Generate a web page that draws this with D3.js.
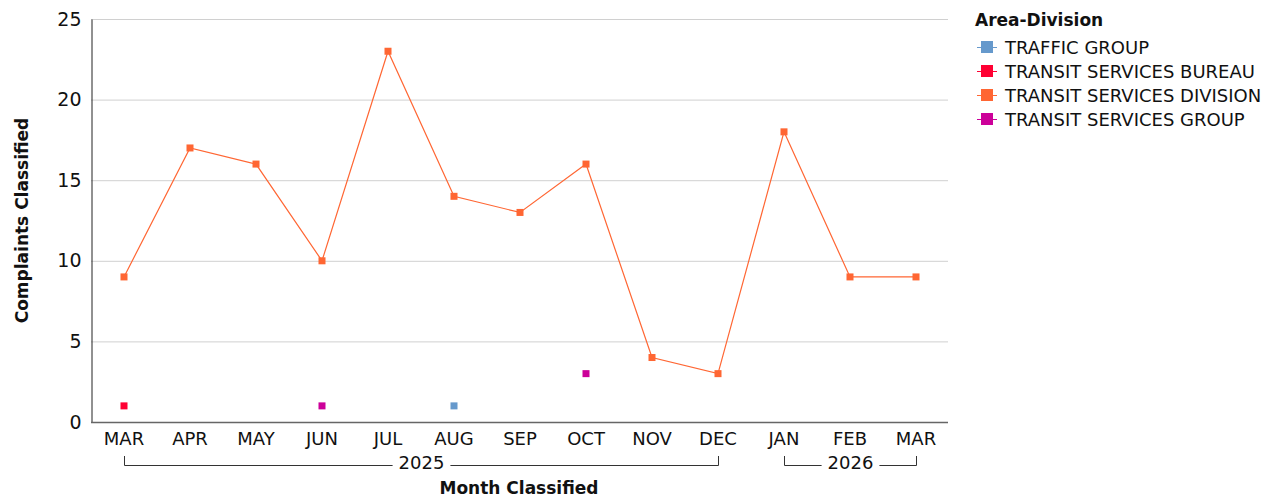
<!DOCTYPE html>
<html><head><meta charset="utf-8">
<script src="https://cdn.jsdelivr.net/npm/d3@7"></script>
<style>body{margin:0;background:#fff;}svg{display:block;font-family:"DejaVu Sans",sans-serif;}</style>
</head><body>
<svg id="c" width="1268" height="498"></svg>
<script>
const months = ["MAR","APR","MAY","JUN","JUL","AUG","SEP","OCT","NOV","DEC","JAN","FEB","MAR"];
const monthKeys = ["2025-03","2025-04","2025-05","2025-06","2025-07","2025-08","2025-09","2025-10","2025-11","2025-12","2026-01","2026-02","2026-03"];
const years = [{label:"2025", from:0, to:9},{label:"2026", from:10, to:12}];
const seriesNames = ["TRAFFIC GROUP","TRANSIT SERVICES BUREAU","TRANSIT SERVICES DIVISION","TRANSIT SERVICES GROUP"];
const seriesColors = ["#6699cc","#ff0033","#ff6633","#cc0099"];
const trafficGroup = [null,null,null,null,null,1,null,null,null,null,null,null,null];
const transitBureau = [1,null,null,null,null,null,null,null,null,null,null,null,null];
const transitDivision = [9,17,16,10,23,14,13,16,4,3,18,9,9];
const transitGroup = [null,null,null,1,null,null,null,3,null,null,null,null,null];
const yTicks = [0,5,10,15,20,25];

const seriesData = [trafficGroup, transitBureau, transitDivision, transitGroup];
const svg = d3.select("#c");
const L=91, R=949, T=19, B=422;
const x = d3.scaleBand().domain(monthKeys).range([L,R]).padding(0);
const cx = k => x(k)+x.bandwidth()/2;
const y = d3.scaleLinear().domain([0,25]).range([B,T]);

// gridlines
svg.append("g").selectAll("line").data(yTicks.filter(t=>t>0)).join("line")
  .attr("x1",L).attr("x2",R-1).attr("y1",d=>y(d)+0.5).attr("y2",d=>y(d)+0.5)
  .attr("stroke","#d0d0d0").attr("stroke-width",1);

// y axis
const yAxis = svg.append("g").attr("transform",`translate(${L+0.5},0)`)
  .call(d3.axisLeft(y).tickValues(yTicks).tickSize(0).tickPadding(10));
yAxis.select(".domain").attr("stroke","#222").attr("stroke-width",1);
yAxis.selectAll("text").attr("font-size",19).attr("fill","#111").attr("font-family","DejaVu Sans");

// x axis
const xAxis = svg.append("g").attr("transform",`translate(0,${B+0.5})`)
  .call(d3.axisBottom(x).tickFormat((d,i)=>months[i]).tickSize(0).tickPadding(10));
xAxis.select(".domain").attr("stroke","#666").attr("stroke-width",1.5).attr("d",`M${L},0H${R-1}`);
xAxis.selectAll("text").attr("font-size",18).attr("fill","#111").attr("font-family","DejaVu Sans");

// year brackets
const by = 465.5, btop = 456;
years.forEach(yr=>{
  const x1 = Math.round(cx(monthKeys[yr.from]))+0.5, x2 = Math.round(cx(monthKeys[yr.to]))+0.5;
  const mid = (x1+x2)/2;
  const g = svg.append("g");
  const txt = g.append("text").attr("x",mid).attr("y",by+3).attr("text-anchor","middle")
    .attr("font-size",18).attr("fill","#111").text(yr.label);
  const w = txt.node().getComputedTextLength()/2 + 6;
  g.append("path").attr("d",`M${x1},${btop}V${by}H${mid-w}M${mid+w},${by}H${x2}V${btop}`)
    .attr("fill","none").attr("stroke","#333").attr("stroke-width",1);
});

// lines & markers
seriesData.forEach((arr,si)=>{
  const pts = arr.map((v,i)=>({k:monthKeys[i],v})).filter(d=>d.v!==null);
  const line = d3.line().x(d=>cx(d.k)).y(d=>y(d.v));
  const segs=[]; let cur=[];
  arr.forEach((v,i)=>{ if(v===null){ if(cur.length) segs.push(cur); cur=[]; } else cur.push({k:monthKeys[i],v}); });
  if(cur.length) segs.push(cur);
  segs.filter(s=>s.length>1).forEach(s=>{
    svg.append("path").attr("d",line(s)).attr("fill","none").attr("stroke",seriesColors[si]).attr("stroke-width",1.2);
  });
  svg.append("g").selectAll("rect").data(pts).join("rect")
    .attr("x",d=>cx(d.k)-3.5).attr("y",d=>y(d.v)-3.5).attr("width",7).attr("height",7)
    .attr("fill",seriesColors[si]);
});

// axis titles
svg.append("text").attr("transform",`translate(28,${(T+B)/2}) rotate(-90)`).attr("text-anchor","middle")
  .attr("font-size",17).attr("font-weight","bold").attr("fill","#111").text("Complaints Classified");
svg.append("text").attr("x",(L+R)/2 - 1).attr("y",494).attr("text-anchor","middle")
  .attr("font-size",17).attr("font-weight","bold").attr("fill","#111").text("Month Classified");

// legend
const lg = svg.append("g");
lg.append("text").attr("x",975).attr("y",26).attr("font-size",17).attr("font-weight","bold").attr("fill","#111").text("Area-Division");
seriesNames.forEach((n,i)=>{
  const yy = 47 + i*24;
  lg.append("line").attr("x1",977).attr("x2",997).attr("y1",yy+0.5).attr("y2",yy+0.5).attr("stroke",seriesColors[i]).attr("stroke-width",1);
  lg.append("rect").attr("x",981).attr("y",yy-6).attr("width",12).attr("height",12).attr("fill",seriesColors[i]);
  lg.append("text").attr("x",1005).attr("y",yy+6.5).attr("font-size",18).attr("fill","#111").text(n);
});
</script>
</body></html>
